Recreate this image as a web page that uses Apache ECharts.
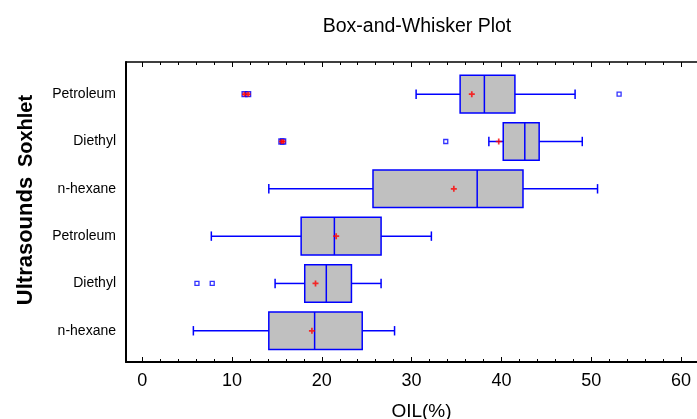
<!DOCTYPE html>
<html>
<head>
<meta charset="utf-8">
<script src="https://cdn.jsdelivr.net/npm/echarts@6/dist/echarts.min.js"></script>
<style>html,body{margin:0;padding:0;background:#fff}#c{width:697px;height:419px}</style>
</head>
<body>
<div id="c"></div>
<script>
// Rows from bottom (1) to top (6)
const categories = ['n-hexane', 'Diethyl', 'Petroleum', 'n-hexane', 'Diethyl', 'Petroleum'];
const groups = ['Ultrasounds', 'Soxhlet'];
const whiskerLow  = [5.7, 14.8, 7.7, 14.1, 38.6, 30.5];
const q1          = [14.1, 18.1, 17.7, 25.7, 40.2, 35.4];
const median      = [19.2, 20.5, 21.4, 37.3, 42.6, 38.1];
const q3          = [24.5, 23.3, 26.6, 42.4, 44.2, 41.5];
const whiskerHigh = [28.1, 26.6, 32.2, 50.7, 49.0, 48.2];
const means       = [18.9, 19.3, 21.6, 34.7, 39.7, 36.7];
// [value, row]
const outsidePoints = [[6.1, 2], [7.8, 2], [33.8, 5], [53.1, 6]];
const farOutsidePoints = [[11.4, 6], [11.8, 6], [15.5, 5], [15.7, 5]];
const majorTicks = [0, 10, 20, 30, 40, 50, 60];
const minorTicks = [2, 4, 6, 8, 12, 14, 16, 18, 22, 24, 26, 28, 32, 34, 36, 38, 42, 44, 46, 48, 52, 54, 56, 58, 62];
const titleText = 'Box-and-Whisker Plot';
const xName = 'OIL(%)';

const BLUE = '#0000ff';
const FONT = 'Liberation Sans, Arial, sans-serif';
const rows = categories.map((c, i) => i + 1);
const boxData = rows.map((r, i) => [r, whiskerLow[i], q1[i], median[i], q3[i], whiskerHigh[i]]);
const meanData = rows.map((r, i) => [means[i], r]);
const plusPath = 'path://M2.5,0H4.5V2.5H7V4.5H4.5V7H2.5V4.5H0V2.5H2.5Z';

const chart = echarts.init(document.getElementById('c'));
const X_MIN = -1.8, X_MAX = 64;
function xAx(pos, ticks, len, labels, line) {
  return {
    type: 'value', position: pos, min: X_MIN, max: X_MAX, offset: 0,
    axisLine: { show: line, onZero: false, lineStyle: { color: '#000', width: pos === 'bottom' ? 2 : 1.5 } },
    axisTick: { show: true, inside: true, length: len, customValues: ticks, lineStyle: { color: '#000', width: 1 } },
    axisLabel: { show: labels, customValues: ticks, color: '#000', fontSize: 18, fontFamily: FONT, margin: 10 },
    splitLine: { show: false },
    name: labels ? xName : '', nameLocation: 'middle', nameGap: 40,
    nameTextStyle: { color: '#000', fontSize: 19, fontFamily: FONT }
  };
}
chart.setOption({
  animation: false,
  backgroundColor: '#fff',
  title: {
    text: titleText, left: 412, top: 12, textAlign: 'center',
    textStyle: { color: '#000', fontSize: 19.5, fontWeight: 'normal', fontFamily: FONT }
  },
  grid: { left: 126, top: 62, bottom: 57, right: -20, containLabel: false, outerBoundsMode: 'none' },
  xAxis: [
    xAx('bottom', majorTicks, 5, true, true),
    xAx('bottom', minorTicks, 3, false, false),
    xAx('top', majorTicks, 5, false, true),
    xAx('top', minorTicks, 3, false, false)
  ],
  yAxis: {
    type: 'value', min: 0.34, max: 6.68,
    axisLine: { show: true, onZero: false, lineStyle: { color: '#000', width: 2 } },
    axisTick: { show: false },
    splitLine: { show: false },
    axisLabel: {
      customValues: rows, color: '#000', fontSize: 14, fontFamily: FONT, margin: 10,
      formatter: v => categories[Math.round(v) - 1] || ''
    }
  },
  graphic: [
    { type: 'text', x: 26, y: 131, rotation: Math.PI / 2,
      style: { text: groups[1], font: 'bold 20px ' + FONT, fill: '#000', align: 'center', verticalAlign: 'middle' } },
    { type: 'text', x: 26, y: 241, rotation: Math.PI / 2,
      style: { text: groups[0], font: 'bold 22px ' + FONT, fill: '#000', align: 'center', verticalAlign: 'middle' } }
  ],
  series: [
    {
      type: 'custom', xAxisIndex: 0, yAxisIndex: 0,
      encode: { x: [1, 2, 3, 4, 5], y: 0 },
      data: boxData,
      renderItem: function (params, api) {
        const y = api.value(0);
        const lo = api.coord([api.value(1), y]);
        const a = api.coord([api.value(2), y]);
        const m = api.coord([api.value(3), y]);
        const b = api.coord([api.value(4), y]);
        const hi = api.coord([api.value(5), y]);
        const h = api.size([0, 0.795])[1];
        const cy = lo[1];
        const cap = 4.7;
        const ls = { stroke: BLUE, lineWidth: 1.5 };
        return {
          type: 'group',
          children: [
            { type: 'line', shape: { x1: lo[0], y1: cy, x2: a[0], y2: cy }, style: ls },
            { type: 'line', shape: { x1: b[0], y1: cy, x2: hi[0], y2: cy }, style: ls },
            { type: 'line', shape: { x1: lo[0], y1: cy - cap, x2: lo[0], y2: cy + cap }, style: ls },
            { type: 'line', shape: { x1: hi[0], y1: cy - cap, x2: hi[0], y2: cy + cap }, style: ls },
            { type: 'rect', shape: { x: a[0], y: cy - h / 2, width: b[0] - a[0], height: h },
              style: { fill: '#c0c0c0', stroke: BLUE, lineWidth: 1.5 } },
            { type: 'line', shape: { x1: m[0], y1: cy - h / 2, x2: m[0], y2: cy + h / 2 }, style: ls }
          ]
        };
      },
      z: 2
    },
    {
      type: 'scatter', xAxisIndex: 0, yAxisIndex: 0, data: meanData,
      symbol: plusPath, symbolSize: 6, itemStyle: { color: '#ff0000' }, z: 5, silent: true
    },
    {
      type: 'scatter', xAxisIndex: 0, yAxisIndex: 0, data: outsidePoints,
      symbol: 'rect', symbolSize: 4, itemStyle: { color: '#fff', borderColor: BLUE, borderWidth: 1.3 }, z: 5
    },
    {
      type: 'scatter', xAxisIndex: 0, yAxisIndex: 0, data: farOutsidePoints,
      symbol: 'rect', symbolSize: 5, itemStyle: { color: '#ff6060', borderColor: BLUE, borderWidth: 1.3 }, z: 5
    },
    {
      type: 'scatter', xAxisIndex: 0, yAxisIndex: 0, data: farOutsidePoints,
      symbol: plusPath, symbolSize: 5, itemStyle: { color: '#ff0000' }, z: 6
    }
  ]
});
</script>
</body>
</html>
